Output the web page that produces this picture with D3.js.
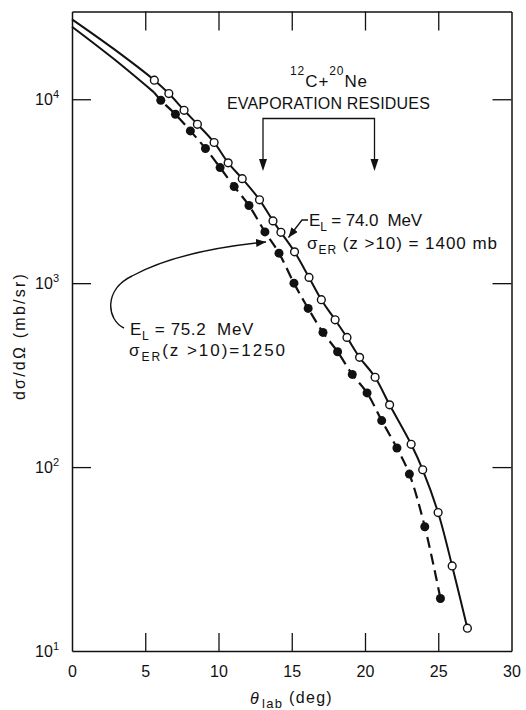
<!DOCTYPE html>
<html><head><meta charset="utf-8">
<script src="https://cdn.jsdelivr.net/npm/d3@7"></script>
<style>
body{margin:0;background:#fff}
svg{display:block}
text{font-family:"Liberation Sans",Arial,Helvetica,sans-serif;fill:#111;white-space:pre}
</style>
</head><body>
<svg id="c" width="526" height="710"></svg>
<script>
// ---- data ----
// E_L = 74.0 MeV (open circles, solid curve)
const openTheta = [5.62, 6.61, 7.65, 8.56, 9.70, 10.66, 11.62, 12.80, 13.72, 14.26, 15.19, 16.18, 17.02, 17.96, 18.77, 19.63, 20.69, 21.68, 23.15, 23.94, 24.99, 25.95, 26.99];
const openSigma = [12690, 10740, 8710, 7310, 5820, 4510, 3700, 2840, 2180, 1890, 1480, 1075, 813, 632, 507, 395, 308, 218, 133, 96.7, 56.6, 29.0, 13.3];
// E_L = 75.2 MeV (filled circles, dashed curve)
const filledTheta = [6.06, 7.06, 8.08, 9.11, 10.11, 11.07, 12.08, 13.17, 14.13, 15.15, 16.12, 17.13, 18.13, 19.13, 20.14, 21.14, 22.18, 23.03, 24.08, 25.15];
const filledSigma = [9880, 8290, 6730, 5400, 4250, 3350, 2645, 1900, 1456, 1000, 729, 540, 424, 319, 253, 179, 127, 91.6, 47.4, 19.3];
// forward-angle extensions of the two curves
const upperLeadTheta = [0, 2.8];
const upperLeadSigma = [27200, 18900];
const lowerLeadTheta = [0, 2.8, 5.6];
const lowerLeadSigma = [24800, 16700, 10900];
// ticks
const xTicks = [0, 5, 10, 15, 20, 25, 30];
const xInnerTicks = [5, 10, 15, 20, 25];
const yTicks = [10, 100, 1000, 10000];
const yTickExp = ["1", "2", "3", "4"];

// ---- scales ----
const svg = d3.select("#c");
const x = d3.scaleLinear().domain([0, 30]).range([72, 511.5]);
const y = d3.scaleLog().domain([10, 30000]).range([651, 11.5]);
const ink = "#111";

// stretch a text line to a target width via letter spacing
function fit(t, w) {
  const n = t.text().length;
  const cur = t.node().getComputedTextLength();
  t.style("letter-spacing", ((w - cur) / n) + "px");
}

// ---- axes (frame with inward ticks) ----
const gB = svg.append("g").attr("transform", `translate(0,${y(10)})`)
  .call(d3.axisBottom(x).tickValues(xTicks).tickSize(-18).tickSizeOuter(0).tickPadding(15).tickFormat(d3.format("d")));
const gT = svg.append("g").attr("transform", `translate(0,${y(30000)})`)
  .call(d3.axisTop(x).tickValues(xInnerTicks).tickSize(-19).tickSizeOuter(0).tickFormat(""));
const gL = svg.append("g").attr("transform", `translate(${x(0)},0)`)
  .call(d3.axisLeft(y).tickValues(yTicks.slice(1)).tickSize(-19).tickSizeOuter(0).tickFormat(""));
const gR = svg.append("g").attr("transform", `translate(${x(30)},0)`)
  .call(d3.axisRight(y).tickValues(yTicks.slice(1)).tickSize(-19).tickSizeOuter(0).tickFormat(""));
[gB, gT, gL, gR].forEach(g => {
  g.select(".domain").attr("stroke", ink).attr("stroke-width", 1.5);
  g.selectAll(".tick line").attr("stroke", ink).attr("stroke-width", 1.3);
});
gB.selectAll(".tick text").attr("fill", ink).style("font-size", "16px")
  .style("font-family", '"Liberation Sans",Arial,sans-serif');
gB.selectAll(".tick line").filter(d => d === 0 || d === 30).remove();

// y tick labels 10^n
yTicks.forEach((v, i) => {
  const t = svg.append("text").attr("x", 59).attr("y", y(v) + 6).attr("text-anchor", "end")
    .style("font-size", "16px");
  t.append("tspan").text("10");
  t.append("tspan").attr("dy", -7).style("font-size", "11px").text(yTickExp[i]);
});

// ---- curves ----
const line = d3.line().x(d => x(d[0])).y(d => y(d[1])).curve(d3.curveCatmullRom.alpha(0.5));
const upperPts = d3.zip(upperLeadTheta.concat(openTheta), upperLeadSigma.concat(openSigma));
const lowerLeadPts = d3.zip(lowerLeadTheta, lowerLeadSigma);
const lowerDashPts = [lowerLeadPts[lowerLeadPts.length - 1]].concat(d3.zip(filledTheta, filledSigma));

svg.append("path").attr("d", line(upperPts)).attr("fill", "none").attr("stroke", ink).attr("stroke-width", 2);
svg.append("path").attr("d", line(lowerLeadPts)).attr("fill", "none").attr("stroke", ink).attr("stroke-width", 2);
svg.append("path").attr("d", line(lowerDashPts)).attr("fill", "none").attr("stroke", ink).attr("stroke-width", 2.2)
  .attr("stroke-dasharray", "11,6");

// ---- points ----
svg.append("g").selectAll("circle").data(d3.zip(filledTheta, filledSigma)).join("circle")
  .attr("cx", d => x(d[0])).attr("cy", d => y(d[1])).attr("r", 4.5).attr("fill", ink);
svg.append("g").selectAll("circle").data(d3.zip(openTheta, openSigma)).join("circle")
  .attr("cx", d => x(d[0])).attr("cy", d => y(d[1])).attr("r", 3.9)
  .attr("fill", "#fff").attr("stroke", ink).attr("stroke-width", 1.4);

// ---- annotations ----
const defs = svg.append("defs");
defs.append("marker").attr("id", "ah").attr("viewBox", "0 0 10 8").attr("refX", 10).attr("refY", 4)
  .attr("markerWidth", 10).attr("markerHeight", 8).attr("markerUnits", "userSpaceOnUse").attr("orient", "auto")
  .append("path").attr("d", "M0,0 L10,4 L0,8 Z").attr("fill", ink);

// title
const t1 = svg.append("text").attr("x", 290).attr("y", 87).style("font-size", "17px");
t1.append("tspan").attr("dy", -12).style("font-size", "12px").text("12");
t1.append("tspan").attr("dy", 12).text("C+");
t1.append("tspan").attr("dy", -12).style("font-size", "12px").text("20");
t1.append("tspan").attr("dy", 12).text("Ne");
fit(t1, 78);
const ev = svg.append("text").attr("x", 227).attr("y", 109).style("font-size", "16px")
  .text("EVAPORATION RESIDUES");
fit(ev, 203);

// bracket with two arrows
svg.append("path").attr("d", "M263,160 V118.5 H374.5 V160").attr("fill", "none").attr("stroke", ink).attr("stroke-width", 1.3);
[263, 374.5].forEach(cx => {
  svg.append("path").attr("d", `M${cx - 4},159 L${cx + 4},159 L${cx},171 Z`).attr("fill", ink);
});

// E_L = 74.0 label
const a1 = svg.append("text").attr("x", 309).attr("y", 226).style("font-size", "17px");
a1.append("tspan").text("E");
a1.append("tspan").attr("dy", 5).style("font-size", "12px").text("L");
a1.append("tspan").attr("dy", -5).text(" = 74.0  MeV");
fit(a1, 113);
const a2 = svg.append("text").attr("x", 307).attr("y", 249).style("font-size", "17px");
a2.append("tspan").text("σ");
a2.append("tspan").attr("dy", 5).style("font-size", "12px").text("ER");
a2.append("tspan").attr("dy", -5).text(" (z >10) = 1400 mb");
fit(a2, 191);
svg.append("path").attr("d", "M308,220 L302,220 L288.5,237.5").attr("fill", "none").attr("stroke", ink)
  .attr("stroke-width", 1.3).attr("marker-end", "url(#ah)");

// E_L = 75.2 label
const b1 = svg.append("text").attr("x", 130).attr("y", 335).style("font-size", "17px");
b1.append("tspan").text("E");
b1.append("tspan").attr("dy", 5).style("font-size", "12px").text("L");
b1.append("tspan").attr("dy", -5).text(" = 75.2  MeV");
fit(b1, 124);
const b2 = svg.append("text").attr("x", 129).attr("y", 356).style("font-size", "17px");
b2.append("tspan").text("σ");
b2.append("tspan").attr("dy", 5).style("font-size", "12px").text("ER");
b2.append("tspan").attr("dy", -5).text("(z >10)=1250");
fit(b2, 158);
svg.append("path").attr("d", "M124,328 C107,320 103,290 132,276 C165,258 215,247 266,242")
  .attr("fill", "none").attr("stroke", ink).attr("stroke-width", 1.4).attr("marker-end", "url(#ah)");

// axis titles
const yl = svg.append("text").attr("transform", "translate(25,336) rotate(-90)").attr("text-anchor", "middle")
  .style("font-size", "16px").text("dσ/dΩ (mb/sr)");
fit(yl, 128);
const xl = svg.append("text").attr("x", 250).attr("y", 704).style("font-size", "16px");
xl.append("tspan").style("font-style", "italic").text("θ");
xl.append("tspan").attr("dy", 4).attr("dx", 2).style("font-size", "13px").text("lab");
xl.append("tspan").attr("dy", -5).text(" (deg)");
fit(xl, 81);
</script>
</body></html>
